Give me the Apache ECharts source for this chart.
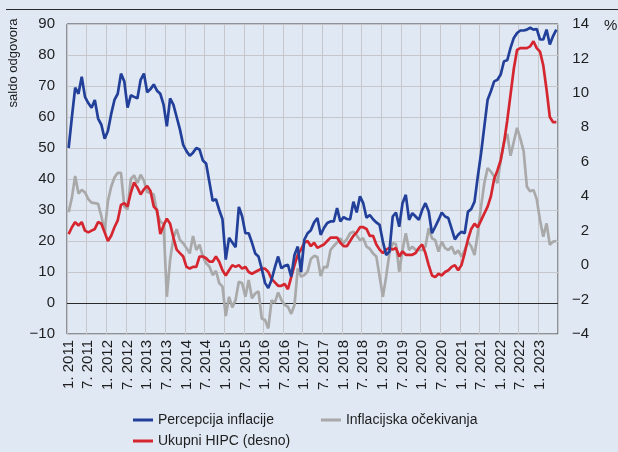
<!DOCTYPE html>
<html>
<head>
<meta charset="utf-8">
<script src="https://cdn.jsdelivr.net/npm/echarts@6/dist/echarts.min.js"></script>
<style>
  html, body { margin: 0; padding: 0; background: #e0e8f4; }
  #chart { width: 618px; height: 452px; }
</style>
</head>
<body>
<div id="chart"></div>
<script>
// Monthly observations, 1/2011 – 6/2023
const startYear = 2011;
const monthCount = 150;

// Percepcija inflacije (saldo odgovora, lijeva os)
const percepcija = [
  50, 60, 69.5, 67.5, 73, 66.5, 64.5, 63, 65.5, 59.5, 57.5, 53,
  55.5, 61, 65.5, 67.5, 74, 71.5, 63, 67, 66.5, 66, 72, 74,
  68, 69, 70.5, 68.5, 67.5, 64, 57, 66, 64, 60, 56, 51,
  49, 47.5, 48.5, 50, 49.5, 46, 45, 39, 33, 33.5, 30, 27,
  14, 21, 19.5, 18, 31, 28, 22.5, 22.5, 19.5, 16, 15, 11,
  6.5, 4.8, 7.5, 11.5, 15, 11.2, 12, 12.3, 8.5, 15.5, 18.2, 10,
  20.4, 22.5, 23.5, 26, 27.4, 22, 24.2, 25.8, 26.3, 26.3, 30.6, 26.3,
  27.7, 27.1, 27, 32.7, 29.2, 34.4, 32.2, 27.5, 28.4, 27, 26, 25.2,
  19.8, 15.5, 16.6, 27.9, 29.2, 24.6, 32.2, 34.9, 26.8, 29, 27.9, 26.8,
  30, 32.2, 29.5, 22.5, 24.6, 26.8, 29.2, 27.9, 27.4, 24, 20.5, 22,
  23, 22.5, 29.5, 30.3, 32.7, 40.8, 48.3, 57, 65.6, 68.3, 71.5, 72,
  73.7, 78, 78.3, 82.3, 85.5, 87.1, 87.9, 87.9, 88.2, 88.8, 88.2, 88.4,
  85, 85, 88.2, 83.4, 86.1, 88.2
];

// Inflacijska očekivanja (saldo odgovora, lijeva os)
const ocekivanja = [
  29.3, 34, 41, 35.3, 36.5, 35.7, 33.5, 32.4, 32.2, 32, 28, 23,
  32.8, 37.5, 40.5, 42, 42, 31.1, 30.2, 40, 41.2, 38.7, 41.4, 39.5,
  35.8, 35.5, 35, 29, 26.3, 25.5, 2, 13.9, 21, 23.8, 20.3, 19.3,
  17.7, 16, 21.6, 17.1, 18.8, 15, 12.8, 11.8, 9, 10.4, 6.4, 5.3,
  -4.2, 2, -1.4, 1, 6.9, 6.4, 2, 7.4, 1.5, 3.1, 3.7, -5,
  -5.5, -8.2, 0.9, 0.1, 3.4, 1, -0.6, -1.2, -3.5, -0.6, 11.2, 8.5,
  9, 10.1, 14.2, 15.2, 14.8, 8.7, 11.7, 11.5, 17.1, 18.4, 19.5, 20.9,
  19.3, 20.6, 22.5, 23, 21.8, 20.3, 20.9, 18.2, 17.5, 16, 15, 8.5,
  2, 8.5, 16, 19.3, 19, 10.1, 17.1, 22.5, 17.1, 18.2, 17.1, 17.1,
  17.1, 18.2, 24.1, 20.9, 20.3, 16.6, 19.8, 17.7, 17.1, 18.2, 15.8, 17,
  15, 17.1, 19.8, 18.2, 15.5, 22.5, 31.1, 38.7, 43.5, 42.4, 40.8, 38.7,
  46, 52, 54.5, 47.5, 52, 56.5, 53, 49, 37.5, 36, 36.5, 33.5,
  26.8, 21.4, 25.7, 18.8, 19.8, 20
];

// Ukupni HIPC (%, desna os)
const hipc = [
  1.8, 2.2, 2.5, 2.3, 2.5, 2.0, 1.9, 2.0, 2.1, 2.5, 2.4, 1.9,
  1.4, 1.7, 2.2, 2.6, 3.5, 3.6, 3.4, 4.2, 4.8, 4.5, 4.1, 4.4,
  4.6, 4.3, 3.4, 3.2, 1.8, 2.3, 2.7, 2.4, 1.6, 0.9, 0.7, 0.5,
  -0.1, -0.2, -0.1, -0.1, 0.5, 0.5, 0.4, 0.2, 0.2, 0.5, 0.2, -0.3,
  -0.6, -0.3, 0.0, -0.1, 0.0, -0.2, -0.1, -0.4, -0.5, -0.4, -0.3, -0.2,
  -0.2, -0.4, -0.8, -1.0, -1.2, -1.2, -1.1, -1.4, -0.7, 0.0, 0.6, 0.9,
  1.3, 1.4, 1.1, 1.3, 1.0, 1.1, 1.2, 1.4, 1.6, 1.6, 1.6, 1.3,
  1.1, 1.1, 1.4, 1.7, 1.9, 2.2, 2.2, 2.1, 1.7, 1.7, 1.2, 0.9,
  0.7, 0.9, 1.0, 0.9, 1.0, 0.5, 0.8, 0.6, 0.6, 0.6, 0.7, 1.0,
  1.2, 0.7, 0.0, -0.6, -0.7, -0.5, -0.6, -0.4, -0.3, -0.1, 0.0, -0.3,
  0.0, 0.7, 1.5, 2.1, 2.4, 2.2, 2.6, 3.0, 3.4, 4.0, 5.0, 5.5,
  6.1, 7.1, 8.4, 9.9, 11.4, 12.5, 12.6, 12.6, 12.6, 12.7, 13.0, 12.6,
  12.4, 11.6, 10.2, 8.6, 8.3, 8.3
];

// Category labels "1. 2011", "2. 2011", ...
const months = [];
for (let i = 0; i < monthCount; i++) {
  months.push((i % 12 + 1) + '. ' + (startYear + Math.floor(i / 12)));
}

const seriesNames = ['Percepcija inflacije', 'Inflacijska očekivanja', 'Ukupni HIPC (desno)'];
const colors = { blue: '#22409a', gray: '#a9a9a9', red: '#d52630' };

const FONT = "'Liberation Sans', Arial, sans-serif";
const TEXT = '#1e1e1e';
const minus = v => String(v).replace('-', '\u2212');

const chart = echarts.init(document.getElementById('chart'), null, { renderer: 'canvas' });

chart.setOption({
  animation: false,
  backgroundColor: '#e0e8f4',
  textStyle: { fontFamily: FONT, color: TEXT },
  grid: {
    left: 67, right: 60, top: 24, bottom: 118,
    show: true, borderColor: '#3c3c3c', borderWidth: 1, backgroundColor: 'transparent'
  },
  graphic: [
    { type: 'line', shape: { x1: 6, y1: 9.5, x2: 618, y2: 9.5 }, style: { stroke: '#2a2a2a', lineWidth: 1 }, silent: true },
    { type: 'text', x: 13, y: 63, rotation: Math.PI / 2,
      style: { text: 'saldo odgovora', font: '13px ' + FONT, fill: TEXT, textAlign: 'center', textVerticalAlign: 'middle' } },
    { type: 'text', x: 604, y: 26,
      style: { text: '%', font: '15px ' + FONT, fill: TEXT, textAlign: 'left', textVerticalAlign: 'middle' } }
  ],
  legend: [
    {
      data: [seriesNames[0], seriesNames[1]],
      left: 133, top: 413, padding: 0, itemGap: 47, itemWidth: 20, itemHeight: 3, icon: 'rect',
      textStyle: { fontFamily: FONT, fontSize: 14, color: TEXT }, selectedMode: false
    },
    {
      data: [seriesNames[2]],
      left: 133, top: 434, padding: 0, itemWidth: 20, itemHeight: 3, icon: 'rect',
      textStyle: { fontFamily: FONT, fontSize: 14, color: TEXT }, selectedMode: false
    }
  ],
  xAxis: {
    type: 'category',
    data: months,
    boundaryGap: true,
    axisLine: { show: false },
    axisTick: { show: false },
    axisLabel: { interval: 5, rotate: 90, margin: 6, fontSize: 15, color: TEXT, fontFamily: FONT },
    splitLine: { show: true, interval: 5, lineStyle: { color: '#c5c7cb', width: 1 } }
  },
  yAxis: [
    {
      type: 'value', min: -10, max: 90, interval: 10,
      axisLine: { show: false }, axisTick: { show: false },
      axisLabel: { margin: 12, fontSize: 15, color: TEXT, fontFamily: FONT, formatter: minus },
      splitLine: { show: true, lineStyle: { color: '#c5c7cb', width: 1 } }
    },
    {
      type: 'value', min: -4, max: 14, interval: 2, position: 'right',
      axisLine: { show: false }, axisTick: { show: false },
      axisLabel: { margin: 31, align: 'right', fontSize: 15, color: TEXT, fontFamily: FONT, formatter: minus },
      splitLine: { show: false }
    }
  ],
  series: [
    {
      name: seriesNames[0], type: 'line', data: percepcija, yAxisIndex: 0, z: 4,
      showSymbol: false, symbol: 'none', color: colors.blue,
      lineStyle: { width: 2.7, color: colors.blue },
      markLine: {
        silent: true, symbol: 'none', label: { show: false }, z: 1,
        lineStyle: { color: '#2a2a2a', width: 1, type: 'solid' },
        data: [{ yAxis: 0 }]
      }
    },
    {
      name: seriesNames[1], type: 'line', data: ocekivanja, yAxisIndex: 0, z: 2,
      showSymbol: false, symbol: 'none', color: colors.gray,
      lineStyle: { width: 2.7, color: colors.gray }
    },
    {
      name: seriesNames[2], type: 'line', data: hipc, yAxisIndex: 1, z: 3,
      showSymbol: false, symbol: 'none', color: colors.red,
      lineStyle: { width: 2.7, color: colors.red }
    }
  ]
});
</script>
</body>
</html>
